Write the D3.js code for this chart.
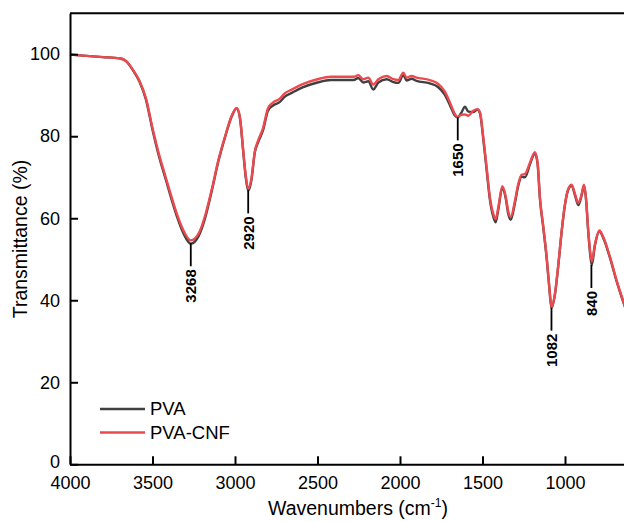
<!DOCTYPE html>
<html>
<head>
<meta charset="utf-8">
<script src="https://cdn.jsdelivr.net/npm/d3@7"></script>
<style>
  html, body { margin: 0; padding: 0; background: #fff; }
  svg { display: block; font-family: "Liberation Sans", Arial, sans-serif; }
</style>
</head>
<body>
<svg id="chart" width="624" height="521"></svg>
<script>
// ---- data ----
const wavenumbers = [4000, 3900, 3800, 3700, 3660, 3620, 3580, 3540, 3500, 3460, 3420, 3380, 3350, 3310, 3268, 3220, 3180, 3140, 3100, 3060, 3020, 2990, 2970, 2950, 2935, 2920, 2900, 2880, 2860, 2830, 2800, 2770, 2730, 2700, 2650, 2590, 2500, 2420, 2340, 2280, 2253, 2222, 2192, 2162, 2131, 2081, 2040, 2010, 1980, 1960, 1930, 1900, 1820, 1770, 1730, 1700, 1670, 1650, 1630, 1606, 1586, 1556, 1531, 1515, 1495, 1475, 1455, 1434, 1420, 1404, 1380, 1360, 1343, 1329, 1303, 1283, 1263, 1242, 1212, 1182, 1166, 1152, 1131, 1111, 1095, 1082, 1061, 1040, 1020, 1000, 980, 960, 939, 919, 899, 885, 873, 859, 848, 838, 818, 792, 768, 727, 687, 642, 600];

const pvaCnf = [99.9, 99.6, 99.3, 99.0, 98.3, 96.3, 93.6, 89.3, 82.0, 75.5, 70.0, 64.6, 60.8, 56.8, 54.6, 56.3, 60.8, 67.2, 74.3, 80.0, 85.0, 86.9, 84.6, 76.5, 70.5, 67.2, 69.8, 76.3, 78.9, 82.0, 86.8, 88.2, 89.1, 90.4, 91.5, 92.7, 93.9, 94.5, 94.5, 94.5, 94.9, 93.9, 94.3, 92.6, 93.9, 94.7, 93.9, 93.7, 95.5, 94.3, 94.7, 94.3, 93.7, 92.8, 91.0, 88.5, 85.6, 84.7, 85.2, 85.3, 85.0, 86.2, 86.6, 85.8, 79.7, 72.4, 65.1, 61.0, 59.8, 62.7, 67.8, 65.5, 61.5, 60.3, 64.3, 68.4, 70.6, 70.8, 73.6, 76.1, 73.5, 65.1, 57.8, 50.5, 43.2, 38.3, 41.6, 48.9, 57.0, 63.5, 67.2, 68.2, 65.9, 63.7, 65.9, 68.2, 65.1, 57.0, 52.1, 49.5, 53.8, 57.0, 55.4, 50.5, 44.8, 39.2, 34.5];

const pva = [99.9, 99.6, 99.3, 99.0, 98.3, 96.2, 93.4, 89.0, 81.6, 75.0, 69.5, 64.0, 60.2, 56.1, 53.8, 55.7, 60.2, 66.8, 74.0, 79.8, 84.8, 86.8, 84.4, 76.2, 70.0, 66.7, 69.4, 76.0, 78.5, 81.5, 86.2, 87.5, 88.3, 89.6, 90.7, 91.9, 93.1, 93.7, 93.7, 93.7, 94.2, 93.1, 93.4, 91.4, 93.1, 93.9, 93.2, 93.0, 94.9, 93.6, 94.0, 93.5, 92.9, 92.0, 90.2, 87.8, 85.2, 84.6, 85.6, 87.2, 86.0, 85.9, 86.5, 85.5, 79.2, 71.8, 64.5, 60.3, 59.0, 62.2, 67.4, 65.0, 60.9, 59.6, 63.8, 68.0, 70.1, 70.0, 73.2, 75.8, 73.2, 64.8, 57.5, 50.2, 43.0, 38.1, 41.4, 48.7, 56.8, 63.3, 67.0, 68.0, 65.5, 63.2, 65.6, 68.0, 64.8, 56.6, 51.4, 48.6, 53.5, 56.8, 55.2, 50.3, 44.6, 39.0, 34.3];

const seriesNames = ["PVA", "PVA-CNF"];
const seriesColors = ["#404040", "#ec4a4f"];

const xTicks = [4000, 3500, 3000, 2500, 2000, 1500, 1000];
const yTicks = [0, 20, 40, 60, 80, 100];

const peakLabels = ["3268", "2920", "1650", "1082", "840"];
const peakWavenumbers = [3268, 2920, 1650, 1082, 840];
const peakValues = [53.9, 66.8, 84.6, 38.2, 48.6];

// ---- layout ----
const svg = d3.select("#chart");
const mLeft = 70, mTop = 13, mBottom = 464.3;
const x = d3.scaleLinear().domain([4000, 400]).range([mLeft, mLeft + 3600 * 0.165]);
const y = d3.scaleLinear().domain([0, 110]).range([mBottom, mTop + 0.2]);

// curves
const line = d3.line()
  .x(d => x(d[0]))
  .y(d => y(d[1]))
  .curve(d3.curveMonotoneX);

const seriesData = [pva, pvaCnf];
seriesData.forEach((vals, i) => {
  const pts = wavenumbers.map((w, j) => [w, vals[j]]).reverse();
  svg.append("path")
    .datum(pts)
    .attr("fill", "none")
    .attr("stroke", seriesColors[i])
    .attr("stroke-width", 2.4)
    .attr("stroke-linejoin", "round")
    .attr("d", line);
});

// frame (top border)
svg.append("line")
  .attr("x1", mLeft).attr("x2", x(400))
  .attr("y1", y(110)).attr("y2", y(110))
  .attr("stroke", "#000").attr("stroke-width", 2);

// axes
const xAxis = d3.axisBottom(x).tickValues(xTicks).tickSizeInner(-8).tickSizeOuter(0).tickPadding(12).tickFormat(d3.format("d"));
const gx = svg.append("g").attr("transform", `translate(0,${mBottom})`).call(xAxis);
gx.select(".domain").attr("stroke-width", 2);
gx.selectAll(".tick line").attr("stroke-width", 2);
gx.selectAll("text").attr("font-size", 18).attr("fill", "#000").attr("font-family", "Liberation Sans, Arial, sans-serif");

const yAxis = d3.axisLeft(y).tickValues(yTicks).tickSizeInner(-8).tickSizeOuter(0).tickPadding(10);
const gy = svg.append("g").attr("transform", `translate(${mLeft},0)`).call(yAxis);
gy.select(".domain").attr("stroke-width", 2);
gy.selectAll(".tick line").attr("stroke-width", 2);
gy.selectAll("text").attr("font-size", 18).attr("fill", "#000").attr("font-family", "Liberation Sans, Arial, sans-serif");
// lift the "0" label slightly so it does not collide with "4000"
gy.selectAll(".tick").filter(d => d === 0).select("text").attr("dy", "0.2em");

// axis titles
const xt = svg.append("text")
  .attr("x", 358).attr("y", 515)
  .attr("text-anchor", "middle")
  .attr("font-size", 19.5);
xt.append("tspan").text("Wavenumbers (cm");
xt.append("tspan").attr("font-size", 12).attr("dy", -8).text("-1");
xt.append("tspan").attr("dy", 8).text(")");

svg.append("text")
  .attr("transform", "translate(27,239) rotate(-90)")
  .attr("text-anchor", "middle")
  .attr("font-size", 19.5)
  .text("Transmittance (%)");

// peak annotations
peakWavenumbers.forEach((w, i) => {
  const px = x(w), py = y(peakValues[i]);
  svg.append("line")
    .attr("x1", px).attr("x2", px)
    .attr("y1", py).attr("y2", py + 23)
    .attr("stroke", "#000").attr("stroke-width", 1.8);
  svg.append("text")
    .attr("transform", `translate(${px},${py + 26}) rotate(-90)`)
    .attr("text-anchor", "end")
    .attr("dy", "0.36em")
    .attr("font-size", 15)
    .attr("font-weight", "bold")
    .text(peakLabels[i]);
});

// legend
seriesNames.forEach((name, i) => {
  const ly = 409 + i * 23.5;
  svg.append("line")
    .attr("x1", 100).attr("x2", 145)
    .attr("y1", ly).attr("y2", ly)
    .attr("stroke", seriesColors[i]).attr("stroke-width", 2.4);
  svg.append("text")
    .attr("x", 150).attr("y", ly)
    .attr("dy", "0.35em")
    .attr("font-size", 18.5)
    .text(name);
});
</script>
</body>
</html>
